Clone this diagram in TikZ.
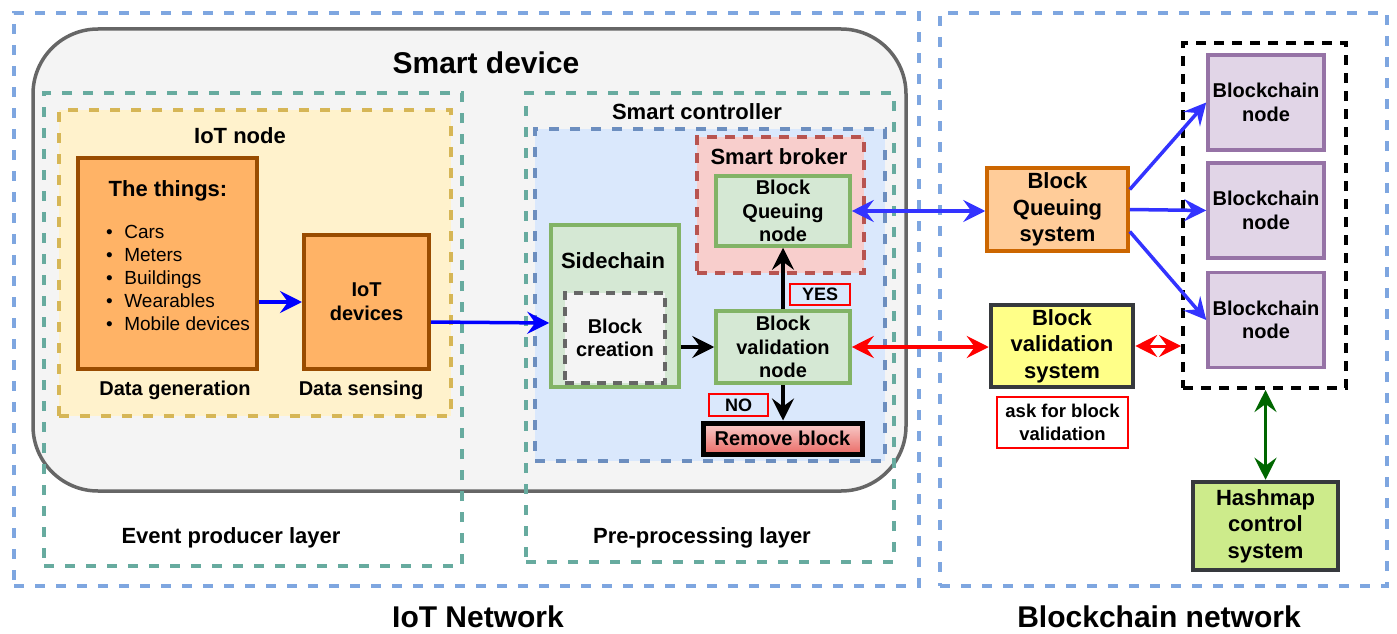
\documentclass[tikz,border=0pt]{standalone}
\usepackage{fontspec}
\setmainfont{Liberation Sans}
\usetikzlibrary{arrows.meta}
\definecolor{netblue}{HTML}{7EA6E0}
\definecolor{layerteal}{HTML}{67AB9F}
\definecolor{iotyellow}{HTML}{FFF2CC}
\definecolor{iotyellowline}{HTML}{D6B656}
\definecolor{thingorange}{HTML}{FFB366}
\definecolor{thingbrown}{HTML}{994C00}
\definecolor{ctrlblue}{HTML}{DAE8FC}
\definecolor{ctrlblueline}{HTML}{6C8EBF}
\definecolor{brokerred}{HTML}{F8CECC}
\definecolor{brokerredline}{HTML}{B85450}
\definecolor{stepgreen}{HTML}{D5E8D4}
\definecolor{stepgreenline}{HTML}{82B366}
\definecolor{devgray}{HTML}{F4F4F4}
\definecolor{devgrayline}{HTML}{666666}
\definecolor{removered}{HTML}{EA6B66}
\definecolor{queueorange}{HTML}{FFCC99}
\definecolor{queueorangeline}{HTML}{CC6600}
\definecolor{validyellow}{HTML}{FFFF88}
\definecolor{darkline}{HTML}{36393D}
\definecolor{chainpurple}{HTML}{E1D5E7}
\definecolor{chainpurpleline}{HTML}{9673A6}
\definecolor{hashgreen}{HTML}{CDEB8B}
\definecolor{linkblue}{HTML}{3333FF}
\definecolor{hashlink}{HTML}{006600}
\newcommand{\fs}[2]{\fontsize{#1}{#2}\selectfont}
\tikzset{
% Sizes and frames of the containers
box size/.style 2 args={minimum width=#1,minimum height=#2,inner sep=0pt},
dashed frame/.style={draw,line width=3.5pt,dash pattern=on 10pt off 11pt},
% Boxes with text
step box/.style={draw=stepgreenline,fill=stepgreen,line width=3.5pt,align=center,font=\bfseries\fs{20}{23.5}},
side box/.style={line width=4.5pt,align=center,font=\bfseries\fs{22}{26.5}},
chain box/.style={draw=chainpurpleline,fill=chainpurple,line width=3.5pt,align=center,font=\bfseries\fs{20}{23.5},box size={116pt}{95pt}},
tag box/.style={draw=red,line width=1.6pt,inner xsep=6pt,inner ysep=2pt,align=center},
% Plain texts
big text/.style={font=\bfseries\fs{30}{34},inner sep=0pt},
layer text/.style={font=\bfseries\fs{22}{26},inner sep=0pt},
small text/.style={font=\bfseries\fs{20}{24},inner sep=0pt},
% Connectors
flow arrow/.style={line width=3.5pt,-{Stealth[length=22pt,width=22pt,inset=8pt]}},
two way arrow/.style={line width=3.5pt,{Stealth[length=22pt,width=22pt,inset=8pt]}-{Stealth[length=22pt,width=22pt,inset=8pt]}}
}

\begin{document}
\begin{tikzpicture}[x=1pt,y=-1pt]
  \useasboundingbox (0,0) rectangle (1397,634);
  % The two networks
  \node(iotnet)[dashed frame,draw=netblue,box size={905pt}{573pt}] at (466.5,299.5) {};
  \node(bcnet)[dashed frame,draw=netblue,box size={447pt}{573pt}] at (1163.5,299.5) {};
  \node(iotnettext)[big text,anchor=base] at (478,627) {IoT Network};
  \node(bcnettext)[big text,anchor=base] at (1159,627) {Blockchain network};
  % Smart device
  \node(smartdev)[draw=devgrayline,fill=devgray,line width=3.5pt,rounded corners=65pt,box size={873pt}{462pt}] at (469.5,260) {};
  \node(smartdevtext)[big text,anchor=base] at (486,74) {Smart device};
  % Layers
  \node(evlayer)[dashed frame,draw=layerteal,box size={418pt}{473pt}] at (253,329.5) {};
  \node(evlayertext)[layer text,anchor=base] at (231,543) {Event producer layer};
  \node(prelayer)[dashed frame,draw=layerteal,box size={368pt}{469pt}] at (710,327.5) {};
  \node(prelayertext)[layer text,anchor=base] at (702,543) {Pre-processing layer};
  % IoT node
  \node(iotnode)[dashed frame,draw=iotyellowline,fill=iotyellow,box size={392pt}{306pt}] at (255,263) {};
  \node(iotnodetext)[layer text,anchor=base] at (240,143) {IoT node};
  \node(things)[draw=thingbrown,fill=thingorange,line width=4pt,box size={179pt}{211pt}] at (167.5,263.5) {};
  \node(thingstext)[layer text,anchor=base] at (168,196) {The things:};
  \foreach \t [count=\i] in {Cars,Meters,Buildings,Wearables,Mobile devices}
    \node(thing\i)[anchor=base west,inner sep=0pt,font=\fs{19}{23}] at (106,215+23*\i) {\textbullet\hspace{11.5pt}\t};
  \node(iotdev)[draw=thingbrown,fill=thingorange,line width=4pt,box size={125pt}{134pt},align=center,font=\bfseries\fs{20}{24}] at (366.5,302) {IoT\\devices};
  \node(gentext)[small text,anchor=base] at (175,395.5) {Data generation};
  \node(sensetext)[small text,anchor=base] at (361,395.5) {Data sensing};
  % Smart controller
  \node(ctrltext)[layer text,anchor=base] at (697,119) {Smart controller};
  \node(ctrl)[dashed frame,draw=ctrlblueline,fill=ctrlblue,box size={350pt}{332pt}] at (710,295) {};
  \node(broker)[dashed frame,draw=brokerredline,fill=brokerred,box size={167pt}{136pt},dash pattern=on 10pt off 8pt] at (780.5,205) {};
  \node(brokertext)[layer text,anchor=base] at (779,164) {Smart broker};
  \node(qnode)[step box,box size={134pt}{70pt}] at (783,211) {Block\\Queuing\\node};
  \node(sidechain)[step box,box size={128pt}{162pt}] at (615,306) {};
  \node(sidechaintext)[layer text,anchor=base] at (613,268) {Sidechain};
  \node(creation)[draw=devgrayline,fill=devgray,line width=3.5pt,dash pattern=on 9pt off 7pt,box size={100pt}{90pt},align=center,font=\bfseries\fs{20}{23.5}] at (615,338) {Block\\creation};
  \node(vnode)[step box,box size={134pt}{72pt}] at (783,347) {Block\\validation\\node};
  \node(yes)[tag box,font=\bfseries\fs{18}{20},box size={60pt}{21pt}] at (820,294.5) {YES};
  \node(no)[tag box,font=\bfseries\fs{18}{20},box size={59pt}{22pt}] at (738.5,405) {NO};
  \node(remove)[draw=black,line width=5pt,top color=brokerred,bottom color=removered,box size={159pt}{31pt},font=\bfseries\fs{20}{24}] at (782.5,438.5) {Remove block};
  % Blockchain side
  \node(qsys)[side box,draw=queueorangeline,fill=queueorange,line width=3.5pt,box size={141pt}{83pt}] at (1057.5,209.5) {Block\\Queuing\\system};
  \node(vsys)[side box,draw=darkline,fill=validyellow,box size={142pt}{82pt}] at (1062,346) {Block\\validation\\system};
  \node(ask)[tag box,fill=white,font=\bfseries\fs{18.5}{23.3},box size={131pt}{51pt}] at (1062.5,422.5) {ask for block\\validation};
  \node(chainset)[dashed frame,draw=black,line width=4pt,dash pattern=on 10pt off 8pt,box size={163pt}{345pt}] at (1264.5,215.5) {};
  \foreach \y [count=\i] in {102.5,210.5,320}
    \node(bc\i)[chain box] at (1266,\y) {Blockchain\\node};
  \node(hash)[side box,draw=darkline,fill=hashgreen,box size={145pt}{88pt}] at (1265.5,526) {Hashmap\\control\\system};
  % Connectors
  \draw[flow arrow,blue] (things.east |- iotdev.west) -- (iotdev.west);
  \draw[flow arrow,blue] ([yshift=-20pt]iotdev.east) -- ([yshift=-17pt]sidechain.west);
  \draw[flow arrow,black] (sidechain.east |- vnode.west) -- (vnode.west);
  \draw[flow arrow,black,line width=4.5pt] (vnode.north) -- (qnode.south);
  \draw[flow arrow,black,line width=4.5pt] (vnode.south) -- (vnode.south |- remove.north);
  \draw[two way arrow,linkblue] (qnode.east) -- (qnode.east -| qsys.west);
  \draw[two way arrow,red] (vnode.east) -- (vnode.east -| vsys.west);
  \draw[two way arrow,red,line width=3pt] (vsys.east) -- (vsys.east -| chainset.west);
  \draw[flow arrow,linkblue] ([yshift=20pt]qsys.east) -- (bc1.west);
  \draw[flow arrow,linkblue] (qsys.east) -- (bc2.west);
  \draw[flow arrow,linkblue] ([yshift=-22pt]qsys.east) -- (bc3.west);
  \draw[two way arrow,hashlink] (chainset.south -| hash.north) -- (hash.north);
\end{tikzpicture}
\end{document}
